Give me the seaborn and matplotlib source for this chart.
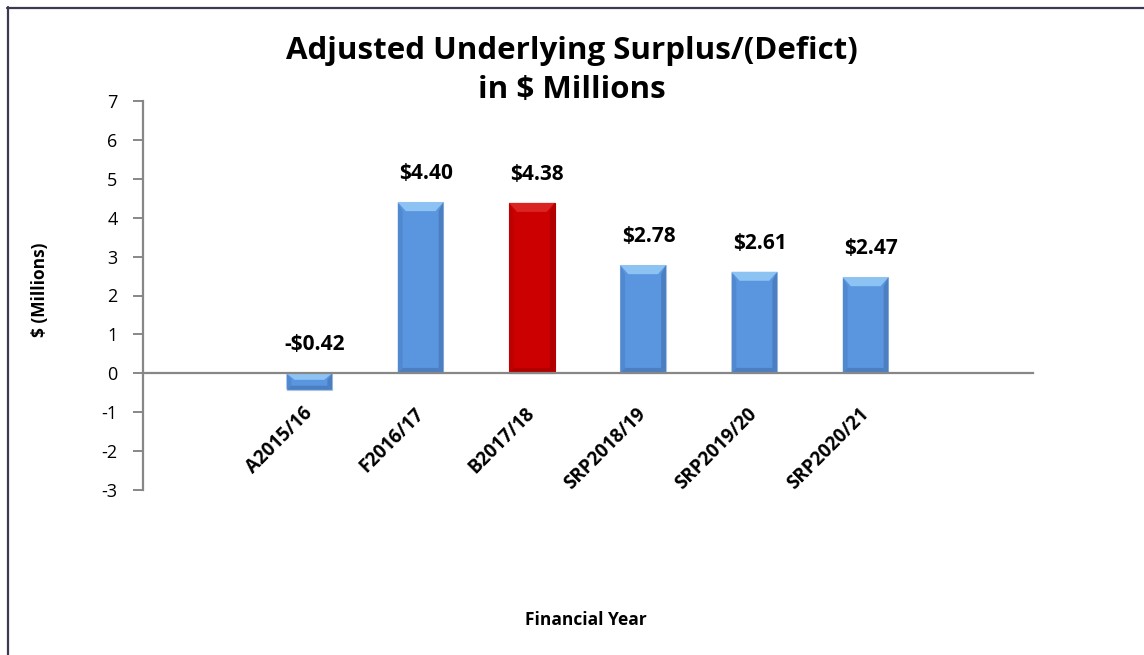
import numpy as np
import pandas as pd
import matplotlib
matplotlib.use('Agg')
import matplotlib.pyplot as plt
import matplotlib.transforms as mtransforms
from matplotlib.lines import Line2D
from matplotlib.patches import Polygon
import seaborn as sb

# data
years = ['A2015/16', 'F2016/17', 'B2017/18', 'SRP2018/19', 'SRP2019/20', 'SRP2020/21']
surplus = [-0.42, 4.40, 4.38, 2.78, 2.61, 2.47]
is_budget = [False, False, True, False, False, False]
y_ticks = list(range(-3, 8))

# face, top bevel, left bevel, right/bottom bevel
blue = ['#5A96DF', '#8DC3F3', '#5189D0', '#4C7FC2']
red = ['#CC0000', '#DA2424', '#C00000', '#B00000']

df = pd.DataFrame({'year': years, 'surplus': surplus})

sb.set_style('white')
plt.rcParams['font.family'] = ['Open Sans', 'DejaVu Sans']
plt.rcParams['text.color'] = 'black'

W, H = 1144, 655
fig = plt.figure(figsize=(W / 100, H / 100), dpi=100)
ax = fig.add_axes([142.5 / W, 1 - 490 / H, 890 / W, 389 / H])

sb.barplot(data=df, x='year', y='surplus', hue='year', order=years,
           palette=dict(zip(years, [red[0] if b else blue[0] for b in is_budget])),
           legend=False, width=0.41, ax=ax, saturation=1)

ax.set_xlim(-1.5, 6.5)
ax.set_ylim(-3, 7)

# bevel look drawn over each bar
dx = 8 / (890 / 8)
dy = 9 / (389 / 10)
for p, b in zip(ax.patches, is_budget):
    cols = red if b else blue
    p.set_edgecolor('#A9C4E6' if not b else '#B00000')
    p.set_linewidth(0.8)
    x0, w = p.get_x(), p.get_width()
    x1 = x0 + w
    yt = max(p.get_y(), p.get_y() + p.get_height())
    yb = min(p.get_y(), p.get_y() + p.get_height())
    d = min(dy, (yt - yb) / 2.5)
    pieces = [
        ([(x0, yt), (x1, yt), (x1 - dx, yt - d), (x0 + dx, yt - d)], cols[1]),
        ([(x0, yt), (x0 + dx * 0.6, yt - d), (x0 + dx * 0.6, yb + d * 0.6), (x0, yb)], cols[2]),
        ([(x1, yt), (x1 - dx * 0.6, yt - d), (x1 - dx * 0.6, yb + d * 0.6), (x1, yb)], cols[3]),
        ([(x0, yb), (x1, yb), (x1 - dx * 0.6, yb + d * 0.6), (x0 + dx * 0.6, yb + d * 0.6)], cols[3]),
    ]
    for pts, c in pieces:
        ax.add_patch(Polygon(pts, closed=True, facecolor=c, edgecolor='none', zorder=3))

ax.set_yticks(y_ticks)
ax.set_yticklabels([str(t) for t in y_ticks], fontsize=13)

axis_grey = '#878787'
for s in ['top', 'right']:
    ax.spines[s].set_visible(False)
ax.spines['left'].set_color(axis_grey)
ax.spines['left'].set_linewidth(1.6)
ax.spines['bottom'].set_position(('data', 0))
ax.spines['bottom'].set_color(axis_grey)
ax.spines['bottom'].set_linewidth(1.6)
ax.spines['bottom'].set_zorder(4)
ax.tick_params(axis='y', length=7, width=1.4, color=axis_grey, pad=11, left=True,
               labelcolor='black')
ax.tick_params(axis='x', length=0, pad=27, labelcolor='black')

for lbl in ax.get_xticklabels():
    lbl.set_rotation(45)
    lbl.set_ha('right')
    lbl.set_va('center')
    lbl.set_rotation_mode('anchor')
    lbl.set_fontweight('bold')
    lbl.set_fontsize(13.5)

ax.set_xlabel('')
ax.set_ylabel('')

# value labels
for i, v in enumerate(surplus):
    txt = '-$%.2f' % abs(v) if v < 0 else '$%.2f' % v
    ax.annotate(txt, (i, max(v, 0)), xytext=(4, 13), textcoords='offset points',
                ha='center', va='bottom', fontsize=15, fontweight='bold')

fig.text(0.5, 1 - 36 / H, 'Adjusted Underlying Surplus/(Defict)\nin $ Millions',
         ha='center', va='top', fontsize=22.5, fontweight='bold', linespacing=1.4)
fig.text(40 / W, 1 - 290 / H, '$ (Millions)', rotation=90, ha='center', va='center',
         fontsize=12.5, fontweight='bold')
fig.text(586 / W, 1 - 620 / H, 'Financial Year', ha='center', va='center',
         fontsize=12.5, fontweight='bold')

# chart frame (only left and top edges fall inside the image)
frame = '#3E3852'
fig.add_artist(Line2D([7.5 / W, 7.5 / W], [0, 1 - 7 / H], color=frame, lw=1.6,
                      transform=fig.transFigure))
fig.add_artist(Line2D([7 / W, 1], [1 - 7.5 / H, 1 - 7.5 / H], color=frame, lw=1.6,
                      transform=fig.transFigure))

fig.savefig('out.png', dpi=100)
